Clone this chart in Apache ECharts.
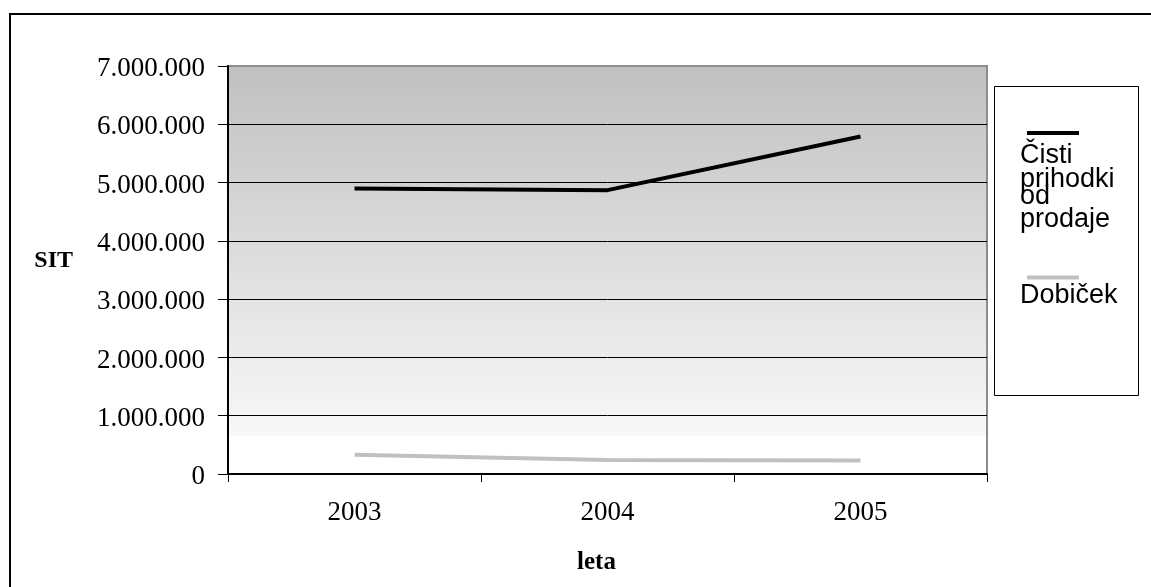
<!DOCTYPE html>
<html>
<head>
<meta charset="utf-8">
<script src="https://cdn.jsdelivr.net/npm/echarts@6/dist/echarts.min.js"></script>
<style>html,body{margin:0;padding:0;background:#fff;}#c{width:1151px;height:587px;}</style>
</head>
<body>
<div id="c"></div>
<script>
var categories = ['2003', '2004', '2005'];
var seriesNames = ['Čisti prihodki od prodaje', 'Dobiček'];
var prihodki = [4900000, 4870000, 5790000];
var dobicek = [330000, 240000, 230000];
var yTicks = [0, 1000000, 2000000, 3000000, 4000000, 5000000, 6000000, 7000000];

function fmt(v) { return String(v).replace(/\B(?=(\d{3})+(?!\d))/g, '.'); }

var chart = echarts.init(document.getElementById('c'));
var serif = 'Liberation Serif';
var sans = 'Liberation Sans';
chart.setOption({
  animation: false,
  graphic: [
    { type: 'rect', shape: { x: 10, y: 14, width: 1160, height: 600 }, style: { fill: 'none', stroke: '#000', lineWidth: 2 }, z: 0 },
    { type: 'rect', shape: { x: 994.5, y: 86.5, width: 144, height: 309 }, style: { fill: '#fff', stroke: '#000', lineWidth: 1 }, z: 0 }
  ],
  grid: {
    left: 228, top: 66, right: 164, bottom: 113, show: true,
    borderColor: '#8c8c8c', borderWidth: 2,
    backgroundColor: {
      type: 'linear', x: 0, y: 0, x2: 0, y2: 1,
      colorStops: [
        { offset: 0, color: '#c0c0c0' },
        { offset: 0.905, color: '#f8f8f8' },
        { offset: 0.906, color: '#ffffff' },
        { offset: 1, color: '#ffffff' }
      ]
    }
  },
  legend: {
    orient: 'vertical', left: 1015, top: 131, padding: 0,
    itemWidth: 0, itemHeight: 0, icon: 'none', itemGap: 42,
    data: seriesNames,
    formatter: function (name) {
      if (name === seriesNames[0]) {
        return '{sp| }{b1| }\n{t1|Čisti}\n{t2|prihodki}\n{t3|od}\n{t4|prodaje}';
      }
      return '{sp| }{b2| }\n{t5|Dobiček}';
    },
    textStyle: {
      fontFamily: sans, fontSize: 27, color: '#000',
      rich: {
        sp: { width: 7, lineHeight: 20, fontSize: 4 },
        b1: { width: 52, height: 4, lineHeight: 20, backgroundColor: '#000', fontSize: 4 },
        b2: { width: 52, height: 4, lineHeight: 20, backgroundColor: '#c0c0c0', fontSize: 4 },
        t1: { fontFamily: sans, fontSize: 27, lineHeight: 26 },
        t2: { fontFamily: sans, fontSize: 27, lineHeight: 22 },
        t3: { fontFamily: sans, fontSize: 27, lineHeight: 12 },
        t4: { fontFamily: sans, fontSize: 27, lineHeight: 34 },
        t5: { fontFamily: sans, fontSize: 27, lineHeight: 16 }
      }
    }
  },
  xAxis: {
    type: 'category', data: categories, boundaryGap: true,
    name: 'leta', nameLocation: 'middle', nameGap: 76,
    nameTextStyle: { fontFamily: serif, fontSize: 25, fontWeight: 'bold', color: '#000', padding: [0, 22, 0, 0] },
    axisLine: { lineStyle: { color: '#000', width: 2 } },
    axisTick: { show: true, length: 8, alignWithLabel: false, lineStyle: { color: '#000', width: 1 } },
    axisLabel: { fontFamily: serif, fontSize: 27, color: '#000', margin: 25 }
  },
  yAxis: {
    type: 'value', min: 0, max: 7000000, interval: 1000000,
    name: 'SIT', nameLocation: 'middle', nameGap: 155, nameRotate: 0,
    nameTextStyle: { fontFamily: serif, fontSize: 24, fontWeight: 'bold', color: '#000', verticalAlign: 'bottom', lineHeight: 18 },
    axisLine: { show: true, lineStyle: { color: '#000', width: 2 } },
    axisTick: { show: true, length: 10, lineStyle: { color: '#000', width: 1 } },
    axisLabel: {
      fontFamily: serif, fontSize: 27, color: '#000', margin: 23,
      verticalAlign: 'top', lineHeight: 6,
      formatter: function (v) { return fmt(v); }
    },
    splitLine: { show: true, lineStyle: { color: ['#000', '#000', '#000', '#000', '#000', '#000', '#000', '#8c8c8c'], width: 1 } }
  },
  series: [
    { name: seriesNames[0], type: 'line', data: prihodki, symbol: 'none', lineStyle: { color: '#000', width: 4 }, itemStyle: { color: '#000' }, z: 3 },
    { name: seriesNames[1], type: 'line', data: dobicek, symbol: 'none', lineStyle: { color: '#c0c0c0', width: 4 }, itemStyle: { color: '#c0c0c0' }, z: 3 }
  ]
});
</script>
</body>
</html>
